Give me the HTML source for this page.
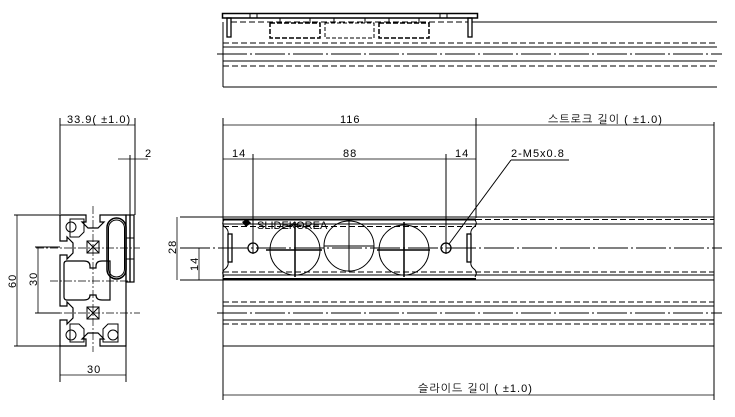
<!DOCTYPE html>
<html><head><meta charset="utf-8"><style>
html,body{margin:0;padding:0;background:#fff;}
svg{display:block;}
text{font-family:"Liberation Sans","NanumGothic",sans-serif;font-size:11px;letter-spacing:1px;fill:#000;}
</style></head><body>
<svg width="735" height="417" viewBox="0 0 735 417" xmlns="http://www.w3.org/2000/svg">
<g fill="none" stroke="#000" stroke-width="1">
<rect x="222.5" y="13.5" width="255" height="4.5" stroke-width="1.5"/>
<line x1="250" y1="14" x2="250" y2="18"/><line x1="257" y1="14" x2="257" y2="18"/>
<line x1="440" y1="14" x2="440" y2="18"/><line x1="447" y1="14" x2="447" y2="18"/>
<rect x="227" y="18" width="4" height="19" stroke-width="1.3"/>
<rect x="468" y="18" width="4" height="19" stroke-width="1.3"/>
<line x1="231" y1="22" x2="468" y2="22" stroke-dasharray="6,3"/>
<line x1="472" y1="22" x2="717" y2="22"/>
<rect x="270" y="23" width="50" height="15" stroke-dasharray="5,2" stroke-width="1.5"/>
<rect x="325" y="23" width="49" height="15" stroke-dasharray="4,2"/>
<rect x="379" y="23" width="50" height="15" stroke-dasharray="5,2" stroke-width="1.5"/>
<line x1="280" y1="18" x2="280" y2="23"/><line x1="310" y1="18" x2="310" y2="23"/>
<line x1="389" y1="18" x2="389" y2="23"/><line x1="419" y1="18" x2="419" y2="23"/>
<line x1="334" y1="18" x2="334" y2="23"/><line x1="365" y1="18" x2="365" y2="23"/>
<line x1="223" y1="22" x2="223" y2="87"/>
<line x1="223" y1="43" x2="717" y2="43" stroke-dasharray="6,3"/>
<line x1="223" y1="47" x2="717" y2="47"/>
<line x1="217" y1="54" x2="722" y2="54" stroke-dasharray="30,3,2,3"/>
<line x1="223" y1="61" x2="717" y2="61"/>
<line x1="223" y1="66" x2="717" y2="66" stroke-dasharray="6,3"/>
<line x1="223" y1="87" x2="717" y2="87"/>

<line x1="223" y1="118" x2="223" y2="400"/>
<line x1="714" y1="122" x2="714" y2="400"/>
<line x1="476" y1="118" x2="476" y2="218"/>
<line x1="223" y1="125" x2="714" y2="125" stroke-width="0.8"/>
<line x1="223" y1="159" x2="476" y2="159" stroke-width="0.8"/>
<line x1="253" y1="154" x2="253" y2="254"/>
<line x1="446" y1="154" x2="446" y2="254"/>
<line x1="223" y1="395" x2="714" y2="395" stroke-width="0.8"/>
<line x1="449" y1="244" x2="511" y2="160"/>
<line x1="511" y1="160" x2="569" y2="160"/>
<line x1="180" y1="217" x2="714" y2="217"/>
<line x1="223" y1="219.5" x2="476" y2="219.5" stroke-width="2"/>
<line x1="476" y1="219.5" x2="714" y2="219.5" stroke-dasharray="6,3"/>
<line x1="223" y1="224" x2="714" y2="224"/>
<line x1="223" y1="226.5" x2="476" y2="226.5" stroke-dasharray="6,3"/>
<line x1="180" y1="248" x2="722" y2="248" stroke-dasharray="30,3,2,3"/>
<line x1="223" y1="272" x2="714" y2="272" stroke-dasharray="6,3"/>
<line x1="223" y1="275" x2="714" y2="275"/>
<line x1="180" y1="280" x2="714" y2="280"/>
<line x1="223" y1="279" x2="476" y2="279" stroke-width="2"/>
<path d="M224 220 q-3 4 1 7 q4 3 3 8 v26 q1 5 -3 8 q-4 3 -1 8"/>
<path d="M475 220 q3 4 -1 7 q-4 3 -3 8 v26 q-1 5 3 8 q4 3 1 8"/>
<rect x="228" y="234" width="4" height="28" stroke-width="1.3"/>
<rect x="467" y="234" width="4" height="28" stroke-width="1.3"/>
<circle cx="253" cy="248" r="5" stroke-width="1.3"/>
<circle cx="446" cy="248" r="5" stroke-width="1.3"/>
<circle cx="295" cy="250" r="25"/>
<line x1="266" y1="250" x2="322" y2="250" stroke-width="1.5"/>
<line x1="295" y1="222" x2="295" y2="277" stroke-width="1.5"/>
<circle cx="349" cy="246" r="25"/>
<line x1="349" y1="220" x2="349" y2="272"/>
<line x1="324" y1="246" x2="374" y2="246"/>
<circle cx="404" cy="250" r="25"/>
<line x1="377" y1="250" x2="430" y2="250" stroke-width="1.5"/>
<line x1="404" y1="222" x2="404" y2="277" stroke-width="1.5"/>
<line x1="223" y1="302" x2="714" y2="302" stroke-dasharray="6,3"/>
<line x1="223" y1="306" x2="714" y2="306"/>
<line x1="217" y1="313" x2="722" y2="313" stroke-dasharray="30,3,2,3"/>
<line x1="223" y1="320" x2="714" y2="320"/>
<line x1="223" y1="324" x2="714" y2="324" stroke-dasharray="6,3"/>
<line x1="223" y1="346" x2="714" y2="346"/>
<line x1="177" y1="217" x2="177" y2="280" stroke-width="0.8"/>
<line x1="199" y1="248" x2="199" y2="280" stroke-width="0.8"/>

<line x1="60" y1="118" x2="60" y2="214"/>
<line x1="135" y1="118" x2="135" y2="215"/>
<line x1="130" y1="155" x2="130" y2="215"/>
<line x1="60" y1="125" x2="135" y2="125" stroke-width="0.8"/>
<line x1="118" y1="159" x2="148" y2="159" stroke-width="0.8"/>
<line x1="14" y1="215" x2="60" y2="215"/>
<line x1="14" y1="346" x2="60" y2="346"/>
<line x1="17" y1="215" x2="17" y2="346" stroke-width="0.8"/>
<line x1="35" y1="247" x2="60" y2="247"/>
<line x1="35" y1="313" x2="60" y2="313"/>
<line x1="38" y1="247" x2="38" y2="313" stroke-width="0.8"/>
<line x1="60" y1="346" x2="60" y2="382"/>
<line x1="126" y1="346" x2="126" y2="382"/>
<line x1="60" y1="375" x2="126" y2="375" stroke-width="0.8"/>
<path stroke-width="1.2" d="M60 215 H86 V222 H82 L88 228 H98 L104 222 H100 V215 H126 V340 V346 H100 V339 H104 L98 333 H88 L82 339 H86 V346 H60 V320 H67 V324 L73 318 V308 L67 302 V306 H60 V255 H67 V259 L73 253 V243 L67 237 V241 H60 Z"/>
<path stroke-width="1.2" d="M64 264 Q64 261 67 261 H84 Q90 261 90 266 V268 H96 V266 Q96 261 102 261 H110 V300 H102 Q96 300 96 295 H90 Q90 300 84 300 H67 Q64 300 64 297 Z"/>
<path d="M70 219 H84 V232 L79 237 H70 Z"/>
<path d="M70 342 H84 V329 L79 324 H70 Z"/>
<path d="M103 342 H118 V324 H108 L103 329 Z"/>
<circle cx="71" cy="227" r="5"/><circle cx="71" cy="335" r="5"/><circle cx="113" cy="335" r="5"/>
<rect x="87" y="241" width="12" height="12"/><path d="M87 241 L99 253 M99 241 L87 253"/>
<rect x="87" y="307" width="12" height="12"/><path d="M87 307 L99 319 M99 307 L87 319"/>
<rect x="107" y="218" width="19" height="61" rx="9.5" stroke-width="1.5"/>
<rect x="108.5" y="220" width="16" height="57" rx="8"/>
<rect x="126" y="215" width="4" height="67" stroke-width="1.2"/>
<rect x="130" y="215" width="4" height="67" stroke-width="1.2"/>
<line x1="126" y1="238" x2="134" y2="238"/><line x1="126" y1="259" x2="134" y2="259"/>
<line x1="93" y1="206" x2="93" y2="352" stroke-dasharray="8,2,2,2" stroke-width="0.7"/>
<line x1="36" y1="248" x2="140" y2="248" stroke-dasharray="8,2,2,2" stroke-width="0.7"/>
<line x1="36" y1="313" x2="140" y2="313" stroke-dasharray="8,2,2,2" stroke-width="0.7"/>
<line x1="50" y1="281" x2="130" y2="281" stroke-dasharray="8,2,2,2" stroke-width="0.7"/>
</g>
<path d="M242 222 l5 -3 l4 4 l-5 4 z" fill="#000"/>
<text x="67" y="123">33.9( ±1.0)</text>
<text x="145" y="157">2</text>
<text x="340" y="123">116</text>
<text x="548" y="123">스트로크 길이 ( ±1.0)</text>
<text x="232" y="157">14</text>
<text x="343" y="157">88</text>
<text x="455" y="157">14</text>
<text x="511" y="157">2-M5x0.8</text>
<text x="257" y="229" style="letter-spacing:0">SLIDEKOREA</text>
<text x="418" y="392">슬라이드 길이 ( ±1.0)</text>
<text x="87" y="373">30</text>
<text transform="translate(16,288) rotate(-90)">60</text>
<text transform="translate(37,286) rotate(-90)">30</text>
<text transform="translate(176,254) rotate(-90)">28</text>
<text transform="translate(198,271) rotate(-90)">14</text>
</svg>
</body></html>
